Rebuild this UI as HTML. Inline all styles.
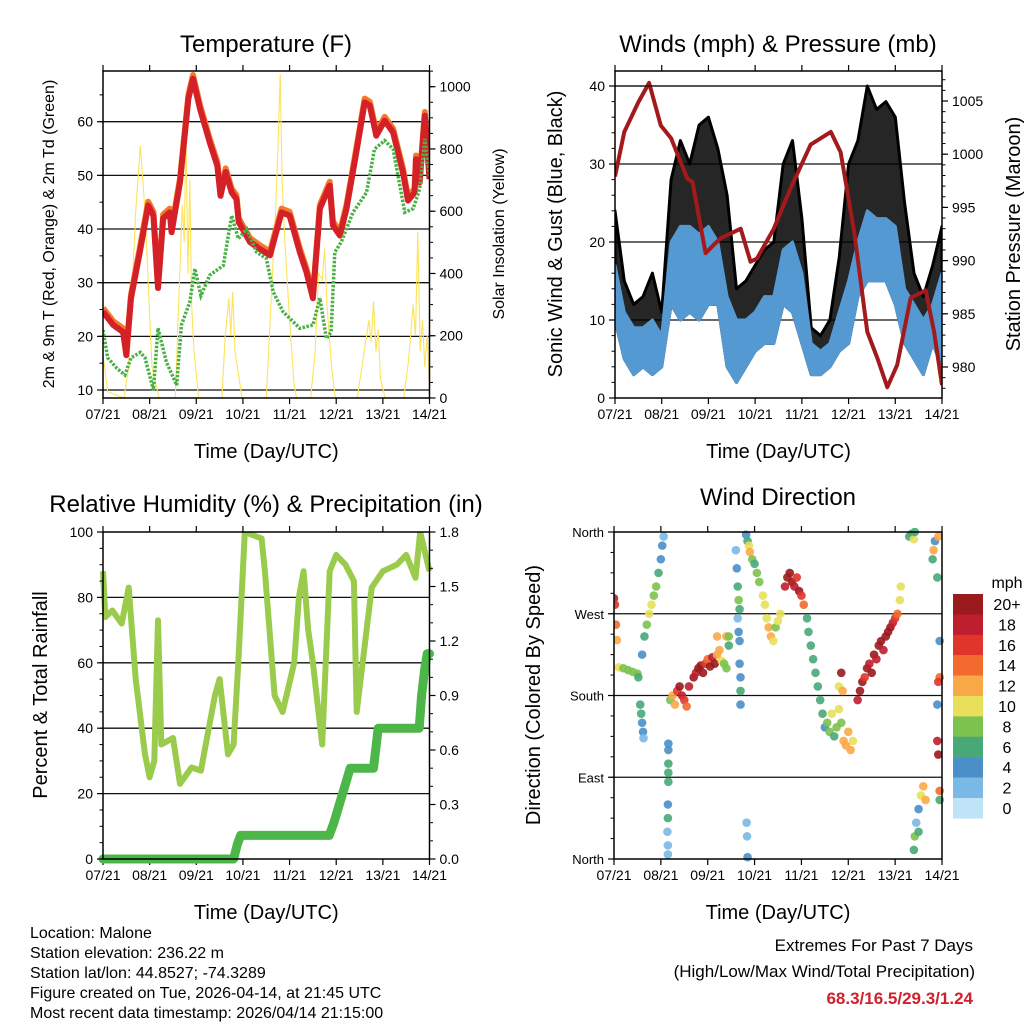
<!DOCTYPE html>
<html><head><meta charset="utf-8"><style>
body{margin:0;background:#fff}
svg{display:block;font-family:"Liberation Sans",sans-serif}
</style></head><body>
<svg id="s" width="1024" height="1024" viewBox="0 0 1024 1024" xmlns="http://www.w3.org/2000/svg">
<rect width="1024" height="1024" fill="#fff"/>
<g id="g1"></g>
<g id="g2"></g>
<g id="g3"></g>
<g id="g4"></g>
<g font-size="16" fill="#000">
<text x="30" y="938">Location: Malone</text>
<text x="30" y="958">Station elevation: 236.22 m</text>
<text x="30" y="978">Station lat/lon: 44.8527; -74.3289</text>
<text x="30" y="998">Figure created on Tue, 2026-04-14, at 21:45 UTC</text>
<text x="30" y="1018">Most recent data timestamp: 2026/04/14 21:15:00</text>
<text x="973" y="951" text-anchor="end" font-size="17">Extremes For Past 7 Days</text>
<text x="975" y="977" text-anchor="end" font-size="17">(High/Low/Max Wind/Total Precipitation)</text>
<text x="973" y="1004" text-anchor="end" font-size="17" font-weight="bold" fill="#d0202e">68.3/16.5/29.3/1.24</text>
</g>
</svg>
<script>
const NS="http://www.w3.org/2000/svg";
const dayLabels=["07/21","08/21","09/21","10/21","11/21","12/21","13/21","14/21"];
// Temperature
const tempT=[0,0.22,0.43,0.5,0.6,0.79,0.97,1.08,1.18,1.29,1.43,1.47,1.65,1.83,1.93,2.08,2.29,2.45,2.52,2.63,2.76,2.86,2.91,3.15,3.36,3.58,3.68,3.83,4.0,4.22,4.36,4.5,4.65,4.86,4.93,5.08,5.22,5.43,5.61,5.72,5.86,6.04,6.22,6.43,6.54,6.68,6.71,6.79,6.9,7.0];
const tempV=[24.6,22.1,20.8,16.5,27.1,35.7,44.4,42.5,29,42,43.1,39.4,48.7,64.3,68,62.4,56.1,51.8,46.2,50.6,46.8,45.6,41.3,37.6,36.3,35.1,38.3,43.1,42.5,35.7,32,27.1,43.8,48.1,40.7,38.8,43.8,54.3,63.6,63,57.4,60.2,58,50.6,45.3,46.8,53,48.7,61.1,49.3];
const dewT=[0,0.1,0.3,0.47,0.6,0.8,0.9,1.08,1.18,1.36,1.58,1.68,1.86,1.97,2.1,2.29,2.58,2.76,2.9,3.08,3.29,3.5,3.65,3.86,4.22,4.5,4.65,4.79,4.89,4.97,5.11,5.36,5.65,5.82,6.04,6.22,6.47,6.65,6.79,6.9,7.0];
const dewV=[21.2,16,14,12.8,16,17,16,10,21.5,15.2,10.9,22.1,26.4,32.6,27.6,31.4,33.2,42.5,38.2,40,35.7,34.5,28.3,24.6,21.5,22.1,27.1,19.6,20.8,35.7,37.6,43.1,46.8,54.9,56.5,54.9,43.1,43.8,47.5,56.8,50];
const solarT=[0,0.1,0.45,0.55,0.7,0.8,0.9,1.05,1.2,1.55,1.62,1.7,1.74,1.78,1.82,1.86,1.9,1.95,2.05,2.55,2.62,2.7,2.74,2.78,2.83,2.9,2.98,3.5,3.6,3.7,3.75,3.8,3.84,3.9,4.0,4.1,4.15,4.45,4.55,4.62,4.7,4.75,4.8,4.9,4.98,5.45,5.55,5.6,5.7,5.75,5.8,5.85,5.9,5.95,6.05,6.45,6.55,6.65,6.7,6.75,6.8,6.85,6.9,6.95,7];
const solarV=[140,20,0,100,600,810,600,100,0,0,300,620,500,850,400,700,300,150,0,0,200,320,200,340,150,80,0,0,300,600,800,1040,700,500,250,40,0,0,150,400,380,480,300,100,0,0,100,150,250,180,310,150,220,60,0,0,120,300,200,535,150,250,100,200,40];
// Winds
const windT=[0,0.2,0.4,0.6,0.8,1.0,1.2,1.4,1.6,1.8,2.0,2.2,2.4,2.6,2.8,3.0,3.2,3.4,3.6,3.8,4.0,4.2,4.4,4.6,4.8,5.0,5.2,5.4,5.6,5.8,6.0,6.2,6.4,6.6,6.8,7.0];
const gustHi=[24,15,12,13,16,11,28,33,30,35,36,32,26,14,15,17,19,20,30,33,23,9,8,10,18,30,33,40,37,38,36,25,16,13,17,22];
const windHi=[17,11,9,9,10,8,20,22,22,21,22,20,13,10,10,11,13,13,19,20,16,7,6,7,11,15,20,24,23,23,22,14,12,10,12,16];
const windLo=[10,5,3,4,3,4,12,10,11,10,12,12,4,2,4,6,7,7,12,11,7,3,3,4,6,7,13,15,15,15,12,7,5,3,7,4];
const presT=[0,0.2,0.5,0.73,0.98,1.2,1.55,1.66,1.94,2.12,2.26,2.69,2.9,3.04,3.4,3.76,4.19,4.62,4.83,5.12,5.4,5.62,5.83,6.04,6.33,6.65,6.83,7.0];
const presV=[997.9,1002.1,1004.9,1006.7,1002.7,1001.5,997.7,997.4,990.7,991.5,992.1,993,989.9,990.2,993,996.8,1000.9,1002.1,1000.2,992.7,983.3,980.8,978.1,980.2,986.5,987.2,983.3,978.3];
// RH & precip
const rhT=[0,0.05,0.2,0.4,0.55,0.7,0.9,1.0,1.1,1.18,1.25,1.5,1.65,1.9,2.1,2.4,2.5,2.68,2.8,2.9,3.04,3.4,3.47,3.68,3.85,4.1,4.2,4.3,4.4,4.5,4.7,4.86,5.0,5.2,5.38,5.44,5.76,6.0,6.3,6.5,6.7,6.8,7.0];
const rhV=[88,74,76,72,83,55,32,25,30,73,35,37,23,28,27,50,55,32,35,60,100,98,88,50,45,60,80,88,70,60,35,88,93,90,85,45,83,88,90,93,86,100,88];
const prT=[0,2.8,2.88,2.95,4.85,4.95,5.3,5.8,5.9,6.78,6.83,6.9,6.95,7.0];
const prV=[0,0,0.08,0.13,0.13,0.2,0.5,0.5,0.72,0.72,0.9,1.05,1.13,1.13];
// Wind direction
const dirT=[0,0.02,0.04,0.06,0.1,0.2,0.3,0.4,0.5,0.52,0.6,0.65,0.7,0.75,0.8,0.85,0.9,0.95,1.0,1.03,1.06,0.56,0.58,0.6,0.62,0.63,1.16,1.16,1.16,1.16,1.16,1.15,1.15,1.14,1.15,1.15,1.2,1.25,1.3,1.35,1.4,1.45,1.5,1.55,1.6,1.7,1.75,1.8,1.85,1.9,1.95,2.0,2.05,2.1,2.15,2.2,2.25,2.3,2.35,2.4,2.2,2.4,2.45,2.45,2.64,2.66,2.68,2.68,2.7,2.7,2.7,2.6,2.62,2.64,2.66,2.68,2.82,2.85,2.88,2.9,2.95,3.0,3.05,3.1,2.83,2.84,2.85,3.18,3.22,3.26,3.3,3.35,3.4,3.45,3.5,3.55,3.65,3.7,3.75,3.8,3.85,3.9,3.95,4.0,4.05,4.12,4.15,4.2,4.25,4.3,4.35,4.4,4.45,4.5,4.55,4.6,4.65,4.7,4.75,4.8,4.85,4.9,4.95,5.0,5.05,5.1,4.8,4.85,4.88,5.2,5.25,5.3,5.35,5.4,5.45,5.5,5.55,5.6,5.65,5.7,5.75,5.8,5.85,5.9,5.95,6.0,6.05,6.1,6.12,6.3,6.35,6.4,6.42,6.4,6.42,6.45,6.5,6.55,6.6,6.65,6.5,6.8,6.82,6.85,6.9,6.92,6.95,6.92,6.9,6.92,6.95,6.95,6.9,6.95];
const dirD=[287,280,258,241,211,210,208,206,204,200,225,245,258,270,280,290,300,315,330,345,355,170,160,150,140,133,127,120,105,95,85,60,45,30,15,5,175,180,170,185,190,180,175,168,190,200,205,210,213,205,215,220,212,222,215,225,230,218,215,210,245,245,245,235,265,250,240,215,200,185,170,340,320,300,285,275,357,350,345,338,330,325,315,305,40,25,2,290,280,265,255,245,240,255,262,270,300,310,315,305,300,310,295,290,280,265,250,235,220,205,190,175,160,145,150,140,160,135,145,165,150,130,125,140,120,130,190,205,185,175,185,195,200,210,215,205,225,220,235,240,230,245,250,255,260,265,270,285,300,355,358,352,360,10,25,40,55,70,80,65,30,330,340,350,310,355,200,195,130,115,75,65,170,240];
const dirS=[18,17,15,13,10,9,9,8,8,6,4,6,8,10,11,9,8,6,5,4,2,7,6,4,4,3,4,5,7,6,6,4,6,3,2,2,9,12,12,16,20,18,16,14,18,20,18,20,20,20,16,14,20,18,20,13,12,10,8,8,12,12,8,7,3,4,5,4,4,6,4,2,4,6,8,7,4,6,10,12,8,7,8,9,2,2,4,10,11,10,12,13,10,9,10,11,18,20,20,20,18,16,20,16,14,7,7,6,6,6,6,6,7,5,8,8,10,7,8,10,9,12,12,13,12,10,10,20,12,18,20,20,16,20,18,20,20,18,20,20,18,20,20,20,18,16,14,10,10,6,7,10,6,7,8,3,4,10,12,12,6,7,12,4,6,12,14,16,18,20,14,6,4,4];
const spdColors=["#bfe3f7","#7ab8e6","#4a8fc8","#48a878","#7cc24e","#e8e05a","#f9a848","#f26a2d","#e0352a","#be1e2d","#9b1a1d"];
const spdLabels=["0","2","4","6","8","10","12","14","16","18","20+"];

function el(parent,tag,attrs){const e=document.createElementNS(NS,tag);for(const k in attrs)e.setAttribute(k,attrs[k]);parent.appendChild(e);return e;}
function txt(parent,x,y,s,size,anchor,rot){const e=el(parent,"text",{x:x,y:y,"font-size":size,"text-anchor":anchor||"middle",fill:"#000"});if(rot)e.setAttribute("transform","rotate(-90 "+x+" "+y+")");e.textContent=s;return e;}
function lin(a,b,c,d){return v=>c+(v-a)*(d-c)/(b-a);}
function pts(T,V,sx,sy){return T.map((t,i)=>sx(t).toFixed(1)+","+sy(V[i]).toFixed(1)).join(" ");}

function frame(g,x0,x1,y0,y1){
  const sx=lin(0,7,x0,x1);
  for(let d=0;d<=7;d++){
    const x=sx(d);
    const tk=el(g,"line",{x1:x,x2:x,y1:y1,y2:y1+6,stroke:"#000","stroke-width":1.2});
    
    
    const tk2=el(g,"line",{x1:x,x2:x,y1:y0,y2:y0-6,stroke:"#000","stroke-width":1.2});
    
    
    const l=txt(g,x,y1+21,dayLabels[d],14);
    
    
  }
  const t=txt(g,(x0+x1)/2,y1+60,"Time (Day/UTC)",20);
  
  
  return sx;
}
function border(g,x0,x1,y0,y1){const r=el(g,"rect",{x:x0,y:y0,width:x1-x0,height:y1-y0,fill:"none",stroke:"#000","stroke-width":1.5});
  
  }
function yaxis(g,x,sy,vals,minors,labels,side,size){
  const dir=side==="left"?-1:1;
  minors.forEach(v=>{const m=el(g,"line",{x1:x,x2:x+dir*3.5,y1:sy(v),y2:sy(v),stroke:"#000","stroke-width":1});
    
    });
  vals.forEach((v,i)=>{const m=el(g,"line",{x1:x,x2:x+dir*6,y1:sy(v),y2:sy(v),stroke:"#000","stroke-width":1.2});
    
    
    const l=txt(g,x+dir*10,sy(v)+5,labels[i],size||14,side==="left"?"end":"start");
    
    });
}
function grid(g,x0,x1,ys){ys.forEach(y=>{const l=el(g,"line",{x1:x0,x2:x1,y1:y,y2:y,stroke:"#111","stroke-width":1.3});
  
  });}
function range(a,b,s){const r=[];for(let v=a;v<=b+1e-9;v+=s)r.push(+v.toFixed(4));return r;}

// ===== Panel 1
(function(){
  const g=document.getElementById("g1");
  const X0=103,X1=429.5,Y0=71,Y1=398;
  const sx=frame(g,X0,X1,Y0,Y1);
  const sy=lin(10,60,390,121.7);
  const sr=lin(0,1000,398,86.7);
  grid(g,X0,X1,[10,20,30,40,50,60].map(sy));
  const cp=el(g,"clipPath",{id:"c1"});el(cp,"rect",{x:X0,y:Y0,width:X1-X0,height:Y1-Y0});
  const d=el(g,"g",{"clip-path":"url(#c1)"});
  const so=el(d,"polyline",{points:pts(solarT,solarV,sx,sr),fill:"none",stroke:"#fde35a","stroke-width":1.1});
  
  
  const ow=el(d,"polyline",{points:pts(tempT,tempV.map(v=>v+0.7),sx,sy),fill:"none",stroke:"#f47a2a","stroke-width":6,"stroke-linejoin":"round"});
  
  
  const rd=el(d,"polyline",{points:pts(tempT,tempV,sx,sy),fill:"none",stroke:"#d42027","stroke-width":6,"stroke-linejoin":"round"});
  
  
  const gr=el(d,"polyline",{points:pts(dewT,dewV,sx,sy),fill:"none",stroke:"#4bb045","stroke-width":3.5,"stroke-dasharray":"2.5 1.5"});
  
  
  border(g,X0,X1,Y0,Y1);
  yaxis(g,X0,sy,[10,20,30,40,50,60],range(10,65,5),["10","20","30","40","50","60"],"left");
  yaxis(g,X1,sr,[0,200,400,600,800,1000],range(0,1050,50),["0","200","400","600","800","1000"],"right");
  const t=txt(g,266,52,"Temperature (F)",24);
  const a=txt(g,54,234,"2m & 9m T (Red, Orange) & 2m Td (Green)",16,"middle",true);
  const b=txt(g,504,234,"Solar Insolation (Yellow)",16,"middle",true);
})();

// ===== Panel 2
(function(){
  const g=document.getElementById("g2");
  const X0=615,X1=942,Y0=71,Y1=398;
  const sx=frame(g,X0,X1,Y0,Y1);
  const sy=lin(0,40,398,86);
  const sp=lin(980,1005,367,101);
  grid(g,X0,X1,[10,20,30,40].map(sy));
  const cp=el(g,"clipPath",{id:"c2"});el(cp,"rect",{x:X0,y:Y0,width:X1-X0,height:Y1-Y0});
  const d=el(g,"g",{"clip-path":"url(#c2)"});
  const gb=el(d,"polygon",{points:pts(windT,gustHi,sx,sy)+" "+pts(windT.slice().reverse(),windLo.slice().reverse(),sx,sy),fill:"#000","fill-opacity":0.85,stroke:"#000","stroke-width":3,"stroke-linejoin":"round"});
  
  
  const wb=el(d,"polygon",{points:pts(windT,windHi,sx,sy)+" "+pts(windT.slice().reverse(),windLo.slice().reverse(),sx,sy),fill:"#5499d2",stroke:"#5499d2","stroke-width":3,"stroke-linejoin":"round"});
  
  
  const pr=el(d,"polyline",{points:pts(presT,presV,sx,sp),fill:"none",stroke:"#a31a1d","stroke-width":4,"stroke-linejoin":"round"});
  
  
  grid(g,X0,X1,[sy(40)]);
  border(g,X0,X1,Y0,Y1);
  yaxis(g,X0,sy,[0,10,20,30,40],range(0,40,2),["0","10","20","30","40"],"left");
  yaxis(g,X1,sp,[980,985,990,995,1000,1005],range(978,1007,1),["980","985","990","995","1000","1005"],"right");
  const t=txt(g,778,52,"Winds (mph) & Pressure (mb)",24);
  const a=txt(g,562,234,"Sonic Wind & Gust (Blue, Black)",20,"middle",true);
  const b=txt(g,1020,234,"Station Pressure (Maroon)",20,"middle",true);
})();

// ===== Panel 3
(function(){
  const g=document.getElementById("g3");
  const X0=103,X1=429.5,Y0=532,Y1=859;
  const sx=frame(g,X0,X1,Y0,Y1);
  const sy=lin(0,100,859,532);
  const sr=lin(0,1.8,859,532);
  grid(g,X0,X1,[20,40,60,80].map(sy));
  const cp=el(g,"clipPath",{id:"c3"});el(cp,"rect",{x:X0-6,y:Y0,width:X1-X0+12,height:Y1-Y0+6});
  const d=el(g,"g",{"clip-path":"url(#c3)"});
  const rh=el(d,"polyline",{points:pts(rhT,rhV,sx,sy),fill:"none",stroke:"#9acb4c","stroke-width":6,"stroke-linejoin":"round"});
  
  
  const pr=el(d,"polyline",{points:pts(prT,prV,sx,sr),fill:"none",stroke:"#4cb748","stroke-width":9,"stroke-linejoin":"round","stroke-linecap":"round"});
  
  
  border(g,X0,X1,Y0,Y1);
  yaxis(g,X0,sy,[0,20,40,60,80,100],range(0,100,5),["0","20","40","60","80","100"],"left");
  yaxis(g,X1,sr,[0,0.3,0.6,0.9,1.2,1.5,1.8],range(0,1.8,0.1),["0.0","0.3","0.6","0.9","1.2","1.5","1.8"],"right");
  const t=txt(g,266,512,"Relative Humidity (%) & Precipitation (in)",24);
  const a=txt(g,47,695,"Percent & Total Rainfall",20,"middle",true);
})();

// ===== Panel 4
(function(){
  const g=document.getElementById("g4");
  const X0=614,X1=942,Y0=532,Y1=859;
  const sx=frame(g,X0,X1,Y0,Y1);
  const sy=lin(0,360,859,532);
  grid(g,X0,X1,[90,180,270].map(sy));
  const cp=el(g,"clipPath",{id:"c4"});el(cp,"rect",{x:X0,y:Y0-4,width:X1-X0+4,height:Y1-Y0+8});
  const d=el(g,"g",{"clip-path":"url(#c4)"});
  dirT.forEach((t,i)=>{
    const c=el(d,"circle",{cx:sx(t),cy:sy(dirD[i]),r:4.3,fill:spdColors[Math.min(10,Math.floor(dirS[i]/2))],opacity:0.9});
    
    
  });
  border(g,X0,X1,Y0,Y1);
  yaxis(g,X0,sy,[0,90,180,270,360],range(0,360,22.5),["North","East","South","West","North"],"left",13);
  const t=txt(g,778,505,"Wind Direction",24);
  const a=txt(g,540,695,"Direction (Colored By Speed)",20,"middle",true);
  const cb=el(g,"g",{});
  
  
  const u=txt(cb,1007,588,"mph",16);
  for(let k=10;k>=0;k--){
    const y=594+(10-k)*20.4;
    const r=el(cb,"rect",{x:953,y:y,width:30,height:20.6,fill:spdColors[k]});
    
    
    const l=txt(cb,1007,y+16,spdLabels[k],16);
    
    
  }
})();
</script>
</body></html>
